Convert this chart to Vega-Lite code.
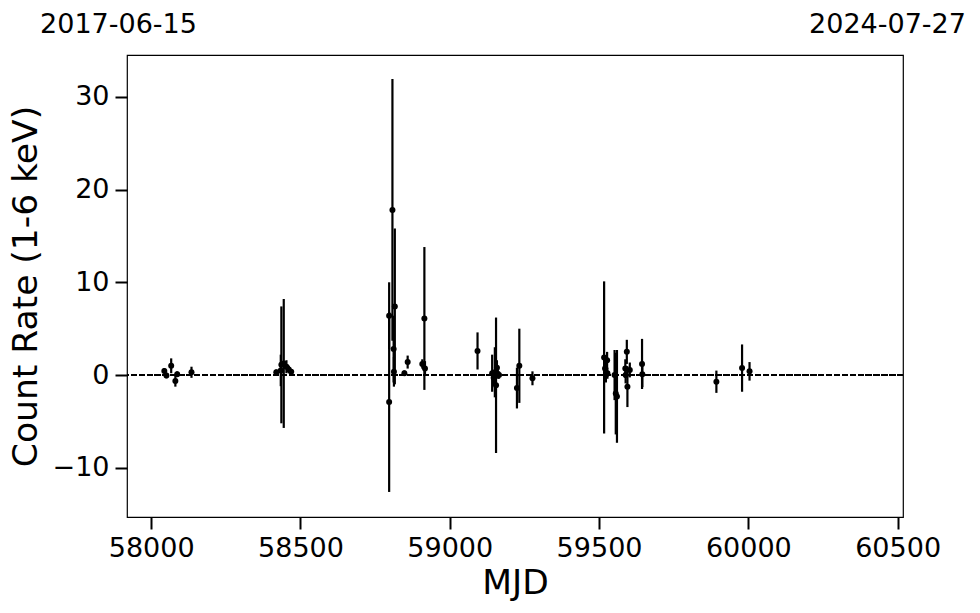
{
  "$schema": "https://vega.github.io/schema/vega-lite/v6.json",
  "autosize": "none",
  "width": 776,
  "height": 462,
  "padding": {"left": 127, "top": 55, "right": 77, "bottom": 96},
  "background": "white",
  "config": {
    "font": "DejaVu Sans",
    "view": {"stroke": "black", "strokeWidth": 1.2},
    "axis": {
      "grid": false,
      "domain": false,
      "tickColor": "black",
      "tickWidth": 2,
      "tickSize": 12,
      "labelColor": "black",
      "labelFont": "DejaVu Sans",
      "labelFontSize": 27,
      "labelPadding": 6,
      "titleFont": "DejaVu Sans",
      "titleFontSize": 34.5,
      "titleFontWeight": "normal",
      "titleColor": "black"
    }
  },
  "data": {
    "values": [
      {"mjd": 58044, "rate": 0.45, "err": 0.3},
      {"mjd": 58051, "rate": -0.05, "err": 0.3},
      {"mjd": 58067, "rate": 1.0, "err": 0.8},
      {"mjd": 58081, "rate": -0.65, "err": 0.6},
      {"mjd": 58087, "rate": 0.1, "err": 0.3},
      {"mjd": 58135, "rate": 0.3, "err": 0.6},
      {"mjd": 58419, "rate": 0.3, "err": 0.3},
      {"mjd": 58434, "rate": 0.5, "err": 1.7},
      {"mjd": 58436, "rate": 1.1, "err": 6.3},
      {"mjd": 58444, "rate": 1.25, "err": 6.95},
      {"mjd": 58453, "rate": 0.9, "err": 0.7},
      {"mjd": 58461, "rate": 0.6, "err": 0.4},
      {"mjd": 58469, "rate": 0.35, "err": 0.3},
      {"mjd": 58797, "rate": 6.4, "err": 3.6},
      {"mjd": 58797, "rate": -2.9, "err": 9.7},
      {"mjd": 58808, "rate": 17.8, "err": 14.1},
      {"mjd": 58812, "rate": 2.8, "err": 3.6},
      {"mjd": 58813, "rate": 0.35, "err": 1.6},
      {"mjd": 58816, "rate": 7.4, "err": 8.4},
      {"mjd": 58848, "rate": 0.2, "err": 0.3},
      {"mjd": 58859, "rate": 1.4, "err": 0.7},
      {"mjd": 58908, "rate": 1.2, "err": 0.5},
      {"mjd": 58915, "rate": 6.1, "err": 7.7},
      {"mjd": 58917, "rate": 0.7, "err": 0.8},
      {"mjd": 59093, "rate": 2.6, "err": 2.0},
      {"mjd": 59142, "rate": 0.2, "err": 2.0},
      {"mjd": 59147, "rate": -0.3, "err": 0.8},
      {"mjd": 59151, "rate": 0.3, "err": 2.7},
      {"mjd": 59153, "rate": 0.0, "err": 0.5},
      {"mjd": 59155, "rate": -1.1, "err": 7.3},
      {"mjd": 59158, "rate": 0.8, "err": 0.8},
      {"mjd": 59161, "rate": 0.1, "err": 0.5},
      {"mjd": 59165, "rate": 0.0, "err": 0.4},
      {"mjd": 59225, "rate": -1.4, "err": 2.2},
      {"mjd": 59233, "rate": 1.0, "err": 4.0},
      {"mjd": 59277, "rate": -0.35, "err": 0.75},
      {"mjd": 59517, "rate": 1.9, "err": 8.2},
      {"mjd": 59520, "rate": 0.7, "err": 1.2},
      {"mjd": 59523, "rate": 0.0, "err": 0.8},
      {"mjd": 59527, "rate": 1.6, "err": 0.9},
      {"mjd": 59528, "rate": 0.2, "err": 0.6},
      {"mjd": 59552, "rate": 0.0, "err": 2.7},
      {"mjd": 59556, "rate": -2.0, "err": 4.4},
      {"mjd": 59560, "rate": -2.3, "err": 5.0},
      {"mjd": 59588, "rate": 0.7, "err": 1.0},
      {"mjd": 59589, "rate": 0.0, "err": 0.9},
      {"mjd": 59593, "rate": 2.5, "err": 1.3},
      {"mjd": 59595, "rate": -1.25, "err": 2.2},
      {"mjd": 59603, "rate": 0.55, "err": 0.8},
      {"mjd": 59644, "rate": 1.2, "err": 2.7},
      {"mjd": 59645, "rate": 0.1, "err": 1.4},
      {"mjd": 59893, "rate": -0.72, "err": 1.2},
      {"mjd": 59979, "rate": 0.75, "err": 2.55},
      {"mjd": 60004, "rate": 0.4, "err": 1.0}
    ]
  },
  "resolve": {"axis": {"x": "independent"}},
  "layer": [
    {
      "mark": {"type": "rule", "color": "black", "strokeWidth": 1.5, "strokeDash": [5.5, 2.4]},
      "encoding": {
        "y": {"datum": 0, "type": "quantitative", "scale": {"domain": [-15.3, 34.5], "nice": false, "zero": false}, "title": "Count Rate (1-6 keV)"}
      }
    },
    {
      "mark": {"type": "errorbar", "ticks": false, "color": "black", "thickness": 2.2},
      "encoding": {
        "x": {"field": "mjd", "type": "quantitative", "scale": {"domain": [57919, 60518], "nice": false, "zero": false},
              "axis": {"orient": "bottom", "values": [58000, 58500, 59000, 59500, 60000, 60500], "format": "d", "title": "MJD", "titlePadding": 5}},
        "y": {"field": "rate", "type": "quantitative", "scale": {"domain": [-15.3, 34.5], "nice": false, "zero": false}, "title": "Count Rate (1-6 keV)",
              "axis": {"values": [-10, 0, 10, 20, 30], "titlePadding": 9}},
        "yError": {"field": "err"}
      }
    },
    {
      "mark": {"type": "point", "filled": true, "color": "black", "opacity": 1, "size": 36},
      "encoding": {
        "x": {"field": "mjd", "type": "quantitative", "scale": {"domain": [57919, 60518], "nice": false, "zero": false},
              "axis": {"orient": "top", "values": [57919, 60518], "title": null, "ticks": false, "tickSize": 0,
                       "labelFlush": false, "labelBaseline": "alphabetic", "labelPadding": 23,
                       "labelExpr": "datum.value < 59000 ? '2017-06-15' : '2024-07-27'",
                       "labelOffset": {"condition": {"test": "datum.value < 59000", "value": -9}, "value": -16}}},
        "y": {"field": "rate", "type": "quantitative", "title": "Count Rate (1-6 keV)"}
      }
    }
  ]
}
